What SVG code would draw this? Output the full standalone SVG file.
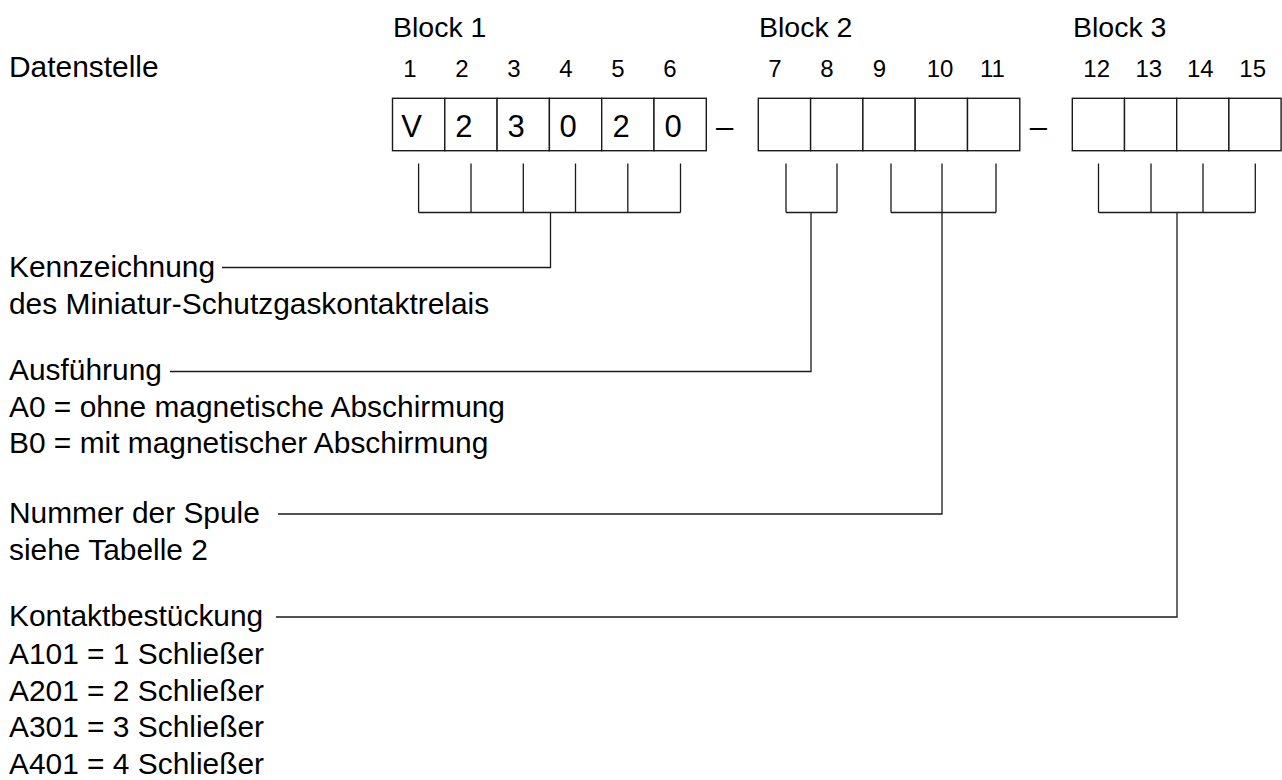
<svg xmlns="http://www.w3.org/2000/svg" width="1282" height="780" viewBox="0 0 1282 780">
<style>
text{font-family:"Liberation Sans",Arial,sans-serif;fill:#000}
.lbl{font-size:29.9px}
.blk{font-size:28.5px}
.num{font-size:24px;text-anchor:middle}
.dig{font-size:31px;text-anchor:middle}
.cell{fill:#fff;stroke:#1a1a1a;stroke-width:1.4}
.ln{fill:none;stroke:#1a1a1a;stroke-width:1.3}
</style>
<rect width="1282" height="780" fill="#fff"/>
<g id="header">
<text class="lbl" x="9" y="77">Datenstelle</text>
<text class="blk" x="393" y="37">Block 1</text>
<text class="blk" x="759" y="37">Block 2</text>
<text class="blk" x="1073" y="37">Block 3</text>
<text class="num" x="410" y="77">1</text>
<text class="num" x="462" y="77">2</text>
<text class="num" x="514" y="77">3</text>
<text class="num" x="566" y="77">4</text>
<text class="num" x="618" y="77">5</text>
<text class="num" x="670" y="77">6</text>
<text class="num" x="775" y="77">7</text>
<text class="num" x="827" y="77">8</text>
<text class="num" x="879.5" y="77">9</text>
<text class="num" x="940" y="77">10</text>
<text class="num" x="992.5" y="77">11</text>
<text class="num" x="1096.7" y="77">12</text>
<text class="num" x="1148.8" y="77">13</text>
<text class="num" x="1200.3" y="77">14</text>
<text class="num" x="1252.7" y="77">15</text>
</g>
<g id="block1">
<rect class="cell" x="392.5" y="98.3" width="52.3" height="52.4"/>
<rect class="cell" x="444.8" y="98.3" width="52.3" height="52.4"/>
<rect class="cell" x="497.1" y="98.3" width="52.3" height="52.4"/>
<rect class="cell" x="549.4" y="98.3" width="52.3" height="52.4"/>
<rect class="cell" x="601.7" y="98.3" width="52.3" height="52.4"/>
<rect class="cell" x="654" y="98.3" width="52.3" height="52.4"/>
<text class="dig" x="411.7" y="136.5">V</text>
<text class="dig" x="463.8" y="136.5">2</text>
<text class="dig" x="516" y="136.5">3</text>
<text class="dig" x="568" y="136.5">0</text>
<text class="dig" x="621" y="136.5">2</text>
<text class="dig" x="673" y="136.5">0</text>
</g>
<g id="sep1"><text class="dig" x="724.5" y="136.5">–</text></g>
<g id="block2">
<rect class="cell" x="758.3" y="98.3" width="52.3" height="52.4"/>
<rect class="cell" x="810.6" y="98.3" width="52.3" height="52.4"/>
<rect class="cell" x="862.9" y="98.3" width="52.3" height="52.4"/>
<rect class="cell" x="915.2" y="98.3" width="52.3" height="52.4"/>
<rect class="cell" x="967.5" y="98.3" width="52.3" height="52.4"/>
</g>
<g id="sep2"><text class="dig" x="1038.3" y="136.5">–</text></g>
<g id="block3">
<rect class="cell" x="1072.3" y="98.3" width="52.2" height="52.4"/>
<rect class="cell" x="1124.5" y="98.3" width="52.2" height="52.4"/>
<rect class="cell" x="1176.7" y="98.3" width="52.2" height="52.4"/>
<rect class="cell" x="1228.9" y="98.3" width="52.2" height="52.4"/>
</g>
<g id="connectors">
<path class="ln" d="M418.6 163.5V212.5M471 163.5V212.5M523.3 163.5V212.5M575.5 163.5V212.5M627.8 163.5V212.5M680.5 163.5V212.5M418.6 212.5H680.5M550.5 212.5V267.5H222"/>
<path class="ln" d="M786 163.5V212.5M837 163.5V212.5M786 212.5H837M811 212.5V371.5H170"/>
<path class="ln" d="M891 163.5V212.5M942 163.5V514H278M996 163.5V212.5M891 212.5H996"/>
<path class="ln" d="M1098.5 163.5V212.5M1151 163.5V212.5M1203 163.5V212.5M1255.3 163.5V212.5M1098.5 212.5H1255.3M1177 212.5V617H276"/>
</g>
<g id="legend-kennzeichnung">
<text class="lbl" x="9" y="277">Kennzeichnung</text>
<text class="lbl" x="9" y="314">des Miniatur-Schutzgaskontaktrelais</text>
</g>
<g id="legend-ausfuehrung">
<text class="lbl" x="9" y="380">Ausführung</text>
<text class="lbl" x="9" y="417">A0 = ohne magnetische Abschirmung</text>
<text class="lbl" x="9" y="453">B0 = mit magnetischer Abschirmung</text>
</g>
<g id="legend-spule">
<text class="lbl" x="9" y="523">Nummer der Spule</text>
<text class="lbl" x="9" y="560">siehe Tabelle 2</text>
</g>
<g id="legend-kontakt">
<text class="lbl" x="9" y="626">Kontaktbestückung</text>
<text class="lbl" x="9" y="664">A101 = 1 Schließer</text>
<text class="lbl" x="9" y="701">A201 = 2 Schließer</text>
<text class="lbl" x="9" y="737">A301 = 3 Schließer</text>
<text class="lbl" x="9" y="774">A401 = 4 Schließer</text>
</g>
</svg>
